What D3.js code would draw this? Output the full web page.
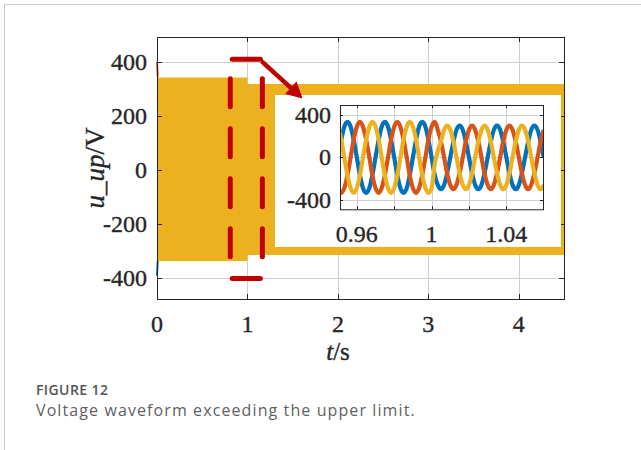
<!DOCTYPE html>
<html><head><meta charset="utf-8">
<script src="https://cdn.jsdelivr.net/npm/d3@7"></script>
<style>body{margin:0;background:#fff}svg{display:block}</style>
</head><body>
<script>
// ---------- main chart data ----------
const mainXTicks = [0, 1, 2, 3, 4];
const mainYTicks = [-400, -200, 0, 200, 400];
const envTime  = [0, 1.0, 1.0, 4.5];
const envUpper = [342, 342, 318, 318];
const envLower = [-337, -337, -315, -315];
const spikeTime   = [0, 0.008];
const spikeOrange = [400, 345];
const spikeBlue   = [-392, -337];
// zoom box and arrow (data coordinates)
const zoomBoxT = [0.81, 1.165];
const zoomBoxV = [-402, 410];
const arrowT = [1.17, 1.61];
const arrowV = [398, 264];

// ---------- inset data ----------
const insetXTicks = [0.96, 0.98, 1.0, 1.02, 1.04];
const insetXLabels = ["0.96", "", "1", "", "1.04"];
const insetYTicks = [-400, 0, 400];
const insetTime = [
0.9500,0.9517,0.9533,0.9550,0.9567,0.9583,0.9600,0.9617,0.9633,0.9650,0.9667,0.9683,
0.9700,0.9717,0.9733,0.9750,0.9767,0.9783,0.9800,0.9817,0.9833,0.9850,0.9867,0.9883,
0.9900,0.9917,0.9933,0.9950,0.9967,0.9983,1.0000,1.0017,1.0033,1.0050,1.0067,1.0083,
1.0100,1.0117,1.0133,1.0150,1.0167,1.0183,1.0200,1.0217,1.0233,1.0250,1.0267,1.0283,
1.0300,1.0317,1.0333,1.0350,1.0367,1.0383,1.0400,1.0417,1.0433,1.0450,1.0467,1.0483,
1.0500,1.0517,1.0533,1.0550,1.0567,1.0583,1.0600];
const phaseA = [
0,168,290,335,290,168,0,-168,-290,-335,-290,-168,
0,168,290,335,290,168,0,-168,-290,-335,-290,-168,
0,168,290,335,290,168,0,-168,-260,-300,-260,-150,
0,150,260,300,260,150,0,-150,-260,-300,-260,-150,
0,150,260,300,260,150,0,-150,-260,-300,-260,-150,
0,150,260,300,260,150,0];
const phaseB = [
-290,-335,-290,-168,0,168,290,335,290,168,0,-168,
-290,-335,-290,-168,0,168,290,335,290,168,0,-168,
-290,-335,-290,-168,0,168,290,335,260,150,0,-150,
-260,-300,-260,-150,0,150,260,300,260,150,0,-150,
-260,-300,-260,-150,0,150,260,300,260,150,0,-150,
-260,-300,-260,-150,0,150,260];
const phaseC = [
290,168,0,-168,-290,-335,-290,-168,0,168,290,335,
290,168,0,-168,-290,-335,-290,-168,0,168,290,335,
290,168,0,-168,-290,-335,-290,-60,60,150,260,300,
260,150,0,-150,-260,-300,-260,-150,0,150,260,300,
260,150,0,-150,-260,-300,-260,-150,0,150,260,300,
260,150,0,-150,-260,-300,-260];

const colBlue = "#0072BD", colOrange = "#D95319", colYellow = "#EDB120";
const colRed = "#C00000";
const axisCol = "#262626", gridCol = "#d0d0d0";
const serif = "'Liberation Serif','Times New Roman',serif";

const W = 641, H = 450;
const svg = d3.select("body").append("svg").attr("width", W).attr("height", H);

// page frame
svg.append("line").attr("x1",4.5).attr("x2",W).attr("y1",4.5).attr("y2",4.5).attr("stroke","#cccccc");
svg.append("line").attr("x1",4.5).attr("x2",4.5).attr("y1",4.5).attr("y2",H).attr("stroke","#cccccc");

// ---------- main axes ----------
const x = d3.scaleLinear().domain([0, 4.5]).range([157, 564]);
const y = d3.scaleLinear().domain([-478, 492]).range([299, 37]);
const g = svg.append("g");

g.selectAll(".vg").data(mainXTicks.slice(1)).join("line")
  .attr("x1", d => Math.round(x(d)) + 0.5).attr("x2", d => Math.round(x(d)) + 0.5)
  .attr("y1", y.range()[1]).attr("y2", y.range()[0])
  .attr("stroke", gridCol).attr("stroke-width", 1);
g.selectAll(".hg").data(mainYTicks).join("line")
  .attr("y1", d => Math.round(y(d)) + 0.5).attr("y2", d => Math.round(y(d)) + 0.5)
  .attr("x1", x.range()[0]).attr("x2", x.range()[1])
  .attr("stroke", gridCol).attr("stroke-width", 1);

const envData = envTime.map((t, i) => ({t, hi: envUpper[i], lo: envLower[i]}));
g.append("path").datum(envData)
  .attr("d", d3.area().x(d => x(d.t)).y0(d => y(d.lo)).y1(d => y(d.hi)))
  .attr("fill", colYellow);

const spikeLine = d3.line().x(d => x(d[0])).y(d => y(d[1]));
g.append("path").datum(spikeTime.map((t, i) => [t, spikeOrange[i]]))
  .attr("d", spikeLine).attr("stroke", colOrange).attr("stroke-width", 2).attr("fill", "none");
g.append("path").datum(spikeTime.map((t, i) => [t, spikeBlue[i]]))
  .attr("d", spikeLine).attr("stroke", colBlue).attr("stroke-width", 2).attr("fill", "none");

const [x0, x1] = x.range(), [y0, y1] = y.range();
g.append("rect").attr("x", x0 + 0.5).attr("y", y1 + 0.5).attr("width", x1 - x0).attr("height", y0 - y1)
  .attr("fill", "none").attr("stroke", axisCol).attr("stroke-width", 1);

const tl = 5;
mainXTicks.forEach(d => {
  const px = Math.round(x(d)) + 0.5;
  g.append("line").attr("x1", px).attr("x2", px).attr("y1", y0).attr("y2", y0 - tl).attr("stroke", axisCol);
  g.append("line").attr("x1", px).attr("x2", px).attr("y1", y1).attr("y2", y1 + tl).attr("stroke", axisCol);
});
mainYTicks.forEach(d => {
  const py = Math.round(y(d)) + 0.5;
  g.append("line").attr("x1", x0).attr("x2", x0 + tl).attr("y1", py).attr("y2", py).attr("stroke", axisCol);
  g.append("line").attr("x1", x1).attr("x2", x1 - tl).attr("y1", py).attr("y2", py).attr("stroke", axisCol);
});

const heavy = sel => sel.attr("stroke", axisCol).attr("stroke-width", 0.35);

heavy(g.selectAll(".xl").data(mainXTicks).join("text")
  .attr("x", d => x(d)).attr("y", 332).attr("text-anchor", "middle")
  .attr("font-family", serif).attr("font-size", 24).attr("fill", axisCol)
  .text(d => d));
heavy(g.selectAll(".yl").data(mainYTicks).join("text")
  .attr("x", 147).attr("y", d => y(d)).attr("dy", "0.33em").attr("text-anchor", "end")
  .attr("font-family", serif).attr("font-size", 24).attr("fill", axisCol)
  .text(d => d));

const xt = heavy(g.append("text").attr("x", 338).attr("y", 360).attr("text-anchor", "middle")
  .attr("font-family", serif).attr("font-size", 25).attr("fill", axisCol));
xt.append("tspan").attr("font-style", "italic").text("t");
xt.append("tspan").text("/s");
const yt = heavy(g.append("text").attr("transform", `translate(104,${y(0) - 2}) rotate(-90)`).attr("text-anchor", "middle")
  .attr("font-family", serif).attr("font-size", 27).attr("fill", axisCol));
yt.append("tspan").attr("font-style", "italic").text("u_up");
yt.append("tspan").text("/V");

// ---------- inset ----------
svg.append("rect").attr("x", 275).attr("y", 95).attr("width", 286).attr("height", 152).attr("fill", "#fff");

const xi = d3.scaleLinear().domain([0.951, 1.0596]).range([340, 543]);
const yi = d3.scaleLinear().domain([-490, 495]).range([209.3, 105]);
const gi = svg.append("g");
const [ix0, ix1] = xi.range(), [iy0, iy1] = yi.range();

gi.selectAll(".ivg").data(insetXTicks).join("line")
  .attr("x1", d => Math.round(xi(d)) + 0.5).attr("x2", d => Math.round(xi(d)) + 0.5)
  .attr("y1", iy1).attr("y2", iy0).attr("stroke", gridCol);
gi.selectAll(".ihg").data(insetYTicks).join("line")
  .attr("y1", d => Math.round(yi(d)) + 0.5).attr("y2", d => Math.round(yi(d)) + 0.5)
  .attr("x1", ix0).attr("x2", ix1).attr("stroke", gridCol);

svg.append("clipPath").attr("id", "iclip").append("rect")
  .attr("x", ix0).attr("y", iy1).attr("width", ix1 - ix0).attr("height", iy0 - iy1);

const iline = d3.line().x(d => xi(d[0])).y(d => yi(d[1])).curve(d3.curveMonotoneX);
[[phaseA, colBlue], [phaseB, colOrange], [phaseC, colYellow]].forEach(([vals, c]) => {
  gi.append("path").datum(insetTime.map((t, i) => [t, vals[i]]))
    .attr("clip-path", "url(#iclip)")
    .attr("d", iline).attr("fill", "none").attr("stroke", c).attr("stroke-width", 4.2);
});

gi.append("rect").attr("x", ix0 + 0.5).attr("y", iy1 + 0.5).attr("width", ix1 - ix0).attr("height", iy0 - iy1)
  .attr("fill", "none").attr("stroke", axisCol);
const itl = 3;
insetXTicks.forEach(d => {
  const px = Math.round(xi(d)) + 0.5;
  gi.append("line").attr("x1", px).attr("x2", px).attr("y1", iy0).attr("y2", iy0 - itl).attr("stroke", axisCol);
  gi.append("line").attr("x1", px).attr("x2", px).attr("y1", iy1).attr("y2", iy1 + itl).attr("stroke", axisCol);
});
insetYTicks.forEach(d => {
  const py = Math.round(yi(d)) + 0.5;
  gi.append("line").attr("x1", ix0).attr("x2", ix0 + itl).attr("y1", py).attr("y2", py).attr("stroke", axisCol);
  gi.append("line").attr("x1", ix1).attr("x2", ix1 - itl).attr("y1", py).attr("y2", py).attr("stroke", axisCol);
});
heavy(gi.selectAll(".ixl").data(insetXTicks).join("text")
  .attr("x", d => xi(d)).attr("y", 242).attr("text-anchor", "middle")
  .attr("font-family", serif).attr("font-size", 24).attr("fill", axisCol)
  .text((d, i) => insetXLabels[i]));
heavy(gi.selectAll(".iyl").data(insetYTicks).join("text")
  .attr("x", 331).attr("y", d => yi(d)).attr("dy", "0.33em").attr("text-anchor", "end")
  .attr("font-family", serif).attr("font-size", 24).attr("fill", axisCol)
  .text(d => d));

// ---------- red zoom box & arrow ----------
const ga = svg.append("g").attr("stroke", colRed).attr("stroke-width", 5).attr("fill", "none").attr("stroke-linecap", "round");
const bx0 = x(zoomBoxT[0]), bx1 = x(zoomBoxT[1]), by0 = y(zoomBoxV[0]), by1 = y(zoomBoxV[1]);
ga.append("line").attr("x1", bx0 + 2).attr("x2", bx1 - 2).attr("y1", by1).attr("y2", by1);
ga.append("line").attr("x1", bx0 + 2).attr("x2", bx1 - 2).attr("y1", by0).attr("y2", by0);
[bx0, bx1].forEach(px => {
  ga.append("line").attr("x1", px).attr("x2", px).attr("y1", by1).attr("y2", by0)
    .attr("stroke-dasharray", "28 22").attr("stroke-dashoffset", -(22 - 2.5));
});
const ax0 = x(arrowT[0]), ay0 = y(arrowV[0]), ax1 = x(arrowT[1]), ay1 = y(arrowV[1]);
const len = Math.hypot(ax1 - ax0, ay1 - ay0), ux = (ax1 - ax0) / len, uy = (ay1 - ay0) / len;
const hl = 16, hw = 8.5;
const bxh = ax1 - ux * hl, byh = ay1 - uy * hl;
ga.append("line").attr("x1", ax0).attr("y1", ay0).attr("x2", bxh + ux * 2).attr("y2", byh + uy * 2).attr("stroke-width", 4.5);
svg.append("path").attr("fill", colRed)
  .attr("d", `M${ax1},${ay1}L${bxh - uy * hw},${byh + ux * hw}L${bxh + uy * hw},${byh - ux * hw}Z`);

// ---------- caption ----------
svg.append("text").attr("x", 36).attr("y", 395).attr("font-family", "'Open Sans',sans-serif")
  .attr("font-size", 14).attr("font-weight", 600).attr("letter-spacing", 0.4).attr("fill", "#555555").text("FIGURE 12");
svg.append("text").attr("x", 36).attr("y", 416).attr("font-family", "'Open Sans',sans-serif")
  .attr("font-size", 16).attr("letter-spacing", 1.1).attr("fill", "#5f5f5f").text("Voltage waveform exceeding the upper limit.");
</script>
</body></html>
